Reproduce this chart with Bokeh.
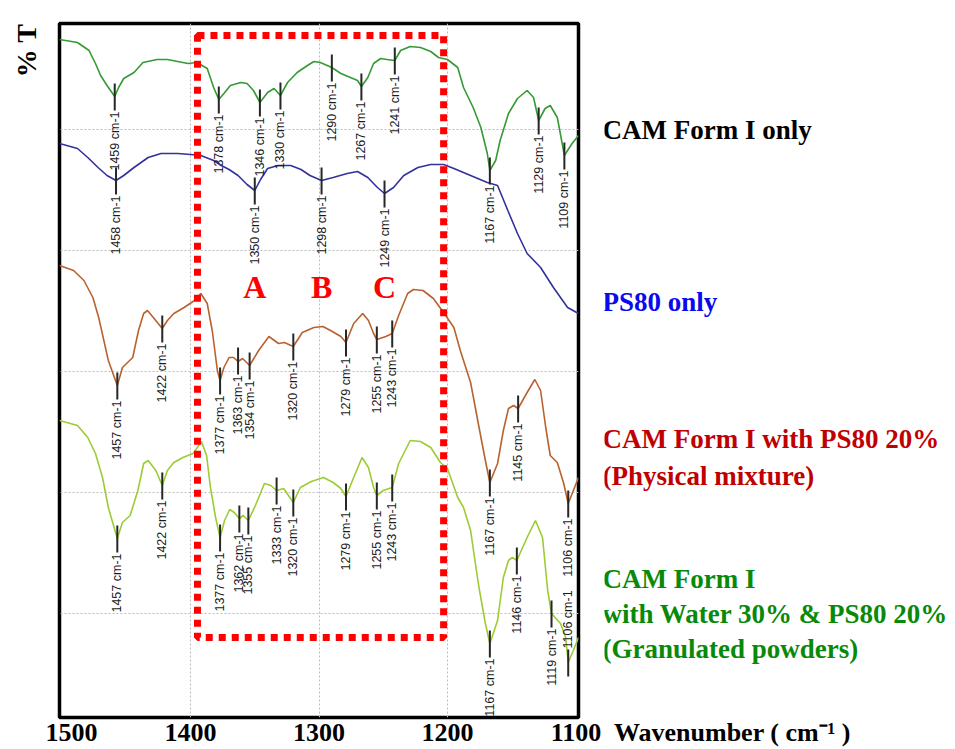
import numpy as np
from math import pi
from bokeh.plotting import figure
from bokeh.layouts import row
from bokeh.models import Range1d, FixedTicker, Label, BoxAnnotation
from bokeh.core.properties import value
from bokeh.embed import file_html
from bokeh.resources import INLINE

# ---------------- data (wavenumber in cm-1, transmittance in arbitrary units, offset traces) -------------
cam_wn = [1502, 1488, 1479, 1474, 1470, 1465, 1459, 1456, 1452, 1444, 1437, 1426, 1418, 1410, 1402,
          1395, 1387, 1382, 1378, 1374, 1369, 1361, 1356, 1351, 1346, 1340, 1335, 1330, 1324.5, 1317,
          1309, 1304, 1299, 1290, 1283, 1275.5, 1270, 1267, 1262, 1257.5, 1252, 1247, 1241, 1236.5, 1229,
          1221, 1213, 1207, 1200, 1192, 1187.5, 1180, 1174, 1169, 1167, 1162.5, 1159, 1152.5, 1145.5, 1138,
          1133, 1129, 1124, 1120, 1114.5, 1112, 1109, 1103, 1098]
cam_t = [695, 692, 684, 671, 659, 649, 638, 647, 656, 662, 672, 675, 675, 673, 671,
         672, 666, 647, 635, 641, 649, 652, 651, 644, 632, 642, 646, 639, 652, 662,
         669, 673, 672, 667, 661, 657, 654, 648, 657, 671, 676, 675, 674, 684, 688,
         687, 683, 677, 675, 667, 647, 627, 607, 581, 564, 574, 594, 621, 636, 644,
         637, 614, 626, 629, 617, 600, 579, 591, 599]

ps80_wn = [1502, 1488, 1480, 1472, 1465, 1458, 1452, 1444, 1433, 1423, 1410, 1400, 1392, 1382, 1376,
           1370, 1363, 1356, 1350, 1345.5, 1340, 1332, 1322, 1314, 1307, 1298, 1289, 1278, 1270, 1262,
           1254.5, 1249, 1242, 1234, 1223, 1213, 1203, 1195, 1182, 1169, 1161, 1153, 1145.5, 1138, 1127.5,
           1117.5, 1106.5, 1098]
ps80_t = [591, 586, 577, 567, 559, 554, 559, 567, 577, 581, 581, 580, 579, 574, 569,
          565, 559, 550, 544, 555, 566, 569, 569, 565, 559, 554, 557, 561, 563, 557,
          547, 541, 547, 559, 567, 570, 570, 566, 559, 552, 549, 524, 501, 481, 467,
          447, 427, 421]

pm_wn = [1502, 1491, 1483, 1476, 1471.5, 1468, 1464, 1457, 1453, 1445, 1440.5, 1436.5, 1433.5, 1429, 1422,
         1418, 1413, 1405, 1398, 1392, 1387, 1383, 1379, 1377, 1374, 1370, 1366.5, 1363, 1359.5, 1354,
         1347, 1339, 1331.5, 1327, 1320, 1313, 1304, 1297, 1291, 1283, 1279, 1273, 1266, 1261.5, 1257.5,
         1255, 1248, 1243, 1238, 1231, 1226.5, 1219, 1211, 1203, 1195, 1190, 1182, 1176, 1170.5, 1167,
         1161, 1156.5, 1152.5, 1148.5, 1145, 1138, 1132, 1127.5, 1123.5, 1120, 1114.5, 1109.5, 1106, 1102, 1098]
pm_t = [469, 464, 454, 437, 417, 397, 374, 349, 367, 377, 404, 421, 424, 417, 406,
        414, 421, 427, 433, 441, 431, 403, 363, 354, 367, 377, 377, 373, 376, 369,
        384, 398, 391, 392, 388, 402, 407, 408, 404, 398, 392, 411, 421, 414, 401,
        395, 398, 401, 419, 441, 445, 444, 436, 422, 407, 384, 352, 311, 274, 252,
        271, 304, 326, 329, 326, 342, 355, 344, 307, 279, 272, 251, 231, 244, 257]

gr_wn = [1502, 1488, 1480, 1474, 1468.5, 1464, 1457, 1453, 1447, 1441, 1436.5, 1433, 1427, 1422, 1418,
         1413, 1406, 1398, 1391.5, 1387.5, 1384.5, 1380.5, 1377, 1373.5, 1369.5, 1366, 1362, 1359, 1355, 1349.5,
         1342.5, 1337.5, 1333, 1327.5, 1320, 1314.5, 1306, 1296.5, 1289, 1283, 1279, 1273, 1266.5, 1261.5, 1257.5,
         1255, 1250, 1243, 1238, 1229, 1221, 1213, 1205.5, 1200, 1192, 1187.5, 1182, 1176, 1170.5, 1167,
         1161, 1156.5, 1152.5, 1149.5, 1146, 1138, 1131.5, 1126, 1122, 1119, 1112, 1108, 1106, 1102, 1098]
gr_t = [314, 309, 297, 281, 257, 227, 196, 212, 219, 244, 271, 274, 264, 249, 264,
        272, 277, 281, 293, 279, 247, 217, 197, 214, 225, 222, 216, 219, 214, 229,
        251, 249, 244, 246, 232, 247, 253, 257, 252, 246, 238, 257, 277, 267, 247,
        239, 244, 247, 271, 294, 293, 287, 272, 266, 237, 227, 204, 151, 111, 91,
        114, 157, 174, 177, 174, 197, 214, 197, 144, 121, 111, 97, 72, 84, 97]

# labelled peaks (position, level on trace)
cam_pk = [1459, 1378, 1346, 1330, 1290, 1267, 1241, 1167, 1129, 1109]
cam_pk_t = [638, 635, 632, 639, 667, 648, 674, 564, 614, 579]
ps80_pk = [1458, 1350, 1298, 1249]
ps80_pk_t = [554, 544, 554, 541]
pm_pk = [1457, 1422, 1377, 1363, 1354, 1320, 1279, 1255, 1243, 1167, 1145, 1106]
pm_pk_t = [349, 406, 354, 374, 369, 388, 392, 395, 401, 252, 326, 231]
gr_pk = [1457, 1422, 1377, 1362, 1355, 1333, 1320, 1279, 1255, 1243, 1167, 1146, 1119]
gr_pk_t = [196, 249, 197, 216, 214, 244, 232, 238, 239, 247, 91, 174, 121]
gr_pk_up = [1106]
gr_pk_up_t = [72]

# region of interest (dotted box) and band letters (PS80 bands)
roi = (1394.6, 1203.0)
band_letters = ["A", "B", "C"]
band_pos = [1350, 1298, 1249]

tick_values = [1500, 1400, 1300, 1200, 1100]
grid_x = [1400, 1300, 1200]
grid_y = [121, 242, 363, 484, 605]

series_names = [["CAM Form I only"], ["PS80 only"],
                ["CAM Form I with PS80 20%", "(Physical mixture)"],
                ["CAM Form I", "with Water 30% & PS80 20%", "(Granulated powders)"]]
x_title = "Wavenumber ( cm\u207b\u00b9 )"
y_title = "% T"

# ---------------- styling ----------------
COL_CAM, COL_PS, COL_PM, COL_GR = "#349a34", "#32329c", "#b9622f", "#9ccc34"
TXT_COLS = ["#000000", "#0a0aee", "#c00000", "#088a08"]
SERIF = "Liberation Serif"
PK_FONT = "Liberation Sans"
H = 749
TOP, BOT = 23, 32          # borders above / below the plotting frame (shared by all panels)


def side_panel(width, x0, x1, with_axis=False):
    f = figure(width=width, height=H, output_backend="svg", toolbar_location=None,
               x_range=Range1d(x0, x1), y_range=Range1d(BOT, H - TOP),
               min_border_left=0, min_border_right=0, min_border_top=TOP, min_border_bottom=BOT,
               x_axis_location="below" if with_axis else None, y_axis_location=None)
    f.grid.visible = False
    f.outline_line_color = None
    f.background_fill_color = "white"
    f.border_fill_color = "white"
    return f


# ---------------- main spectrum panel ----------------
p = figure(width=559, height=H, output_backend="svg", toolbar_location=None,
           x_range=Range1d(1502, 1098), y_range=Range1d(17, 711),
           min_border_left=14, min_border_right=26, min_border_top=TOP, min_border_bottom=BOT)
p.outline_line_color = "black"
p.outline_line_width = 3.5
p.background_fill_color = "white"
p.border_fill_color = "white"
p.yaxis.visible = False

xa = p.xaxis[0]
xa.ticker = FixedTicker(ticks=tick_values)
xa.axis_line_color = None
xa.major_tick_line_color = None
xa.minor_tick_line_color = None
xa.major_label_standoff = 0
xa.major_label_text_font = SERIF
xa.major_label_text_font_style = "bold"
xa.major_label_text_font_size = "26px"
xa.major_label_text_color = "black"

p.xgrid.ticker = FixedTicker(ticks=grid_x)
p.ygrid.ticker = FixedTicker(ticks=grid_y)
for g in (p.xgrid[0], p.ygrid[0]):
    g.grid_line_color = "#bdbdbd"
    g.grid_line_dash = "2 2"
    g.grid_line_width = 1

for wn, t, c in [(cam_wn, cam_t, COL_CAM), (ps80_wn, ps80_t, COL_PS),
                 (pm_wn, pm_t, COL_PM), (gr_wn, gr_t, COL_GR)]:
    p.line(wn, t, line_color=c, line_width=1.6)


def peaks(pk, pt, up=False):
    pt = np.array(pt, dtype=float)
    p.segment(x0=pk, y0=pt + 13, x1=pk, y1=pt - 14, line_color="#262626", line_width=2)
    labels = [f"{v} cm-1" for v in pk]
    if up:
        p.text(x=pk, y=list(pt + 14), text=labels, angle=pi / 2, text_align="left",
               text_baseline="middle", text_font=value(PK_FONT), text_font_size="12.5px",
               text_color="#1a1a1a")
    else:
        p.text(x=pk, y=list(pt - 15), text=labels, angle=pi / 2, text_align="right",
               text_baseline="middle", text_font=value(PK_FONT), text_font_size="12.5px",
               text_color="#1a1a1a")


peaks(cam_pk, cam_pk_t)
peaks(ps80_pk, ps80_pk_t)
peaks(pm_pk, pm_pk_t)
peaks(gr_pk, gr_pk_t)
peaks(gr_pk_up, gr_pk_up_t, up=True)

p.add_layout(BoxAnnotation(left=roi[1], right=roi[0], bottom=97, top=699,
                           fill_alpha=0, line_color="#ff0000", line_alpha=1.0,
                           line_width=7, line_dash="7 6"))

for letter, pos in zip(band_letters, band_pos):
    p.add_layout(Label(x=pos, y=448, text=letter, text_color="#ff0000", text_font=SERIF,
                       text_font_style="bold", text_font_size="32px",
                       text_align="center", text_baseline="middle"))

# ---------------- left strip: y-axis title (panel coords = page pixels, y measured up from bottom) -----
left = side_panel(45, 0, 45)
left.add_layout(Label(x=26, y=H - 50, text=y_title, angle=pi / 2, text_color="black", text_font=SERIF,
                      text_font_style="bold", text_font_size="28px",
                      text_align="center", text_baseline="middle"))

# ---------------- right strip: series names and x-axis title ----------------
right = side_panel(955 - 604, 604, 955, with_axis=True)
legend_y = [[H - 129], [H - 301], [H - 438, H - 475], [H - 578, H - 613, H - 648]]
for names, ys, col in zip(series_names, legend_y, TXT_COLS):
    for n, yy in zip(names, ys):
        right.add_layout(Label(x=602, y=yy, text=n, text_color=col, text_font=SERIF,
                               text_font_style="bold", text_font_size="27px",
                               text_align="left", text_baseline="middle"))

ra = right.xaxis[0]
ra.ticker = FixedTicker(ticks=[732])
ra.major_label_overrides = {732: x_title}
ra.axis_line_color = None
ra.major_tick_line_color = None
ra.minor_tick_line_color = None
ra.major_label_standoff = -6
ra.major_label_text_font = SERIF
ra.major_label_text_font_style = "bold"
ra.major_label_text_font_size = "26px"
ra.major_label_text_color = "black"

layout = row(left, p, right, spacing=0)
open("out.html", "w").write(file_html(layout, INLINE))
